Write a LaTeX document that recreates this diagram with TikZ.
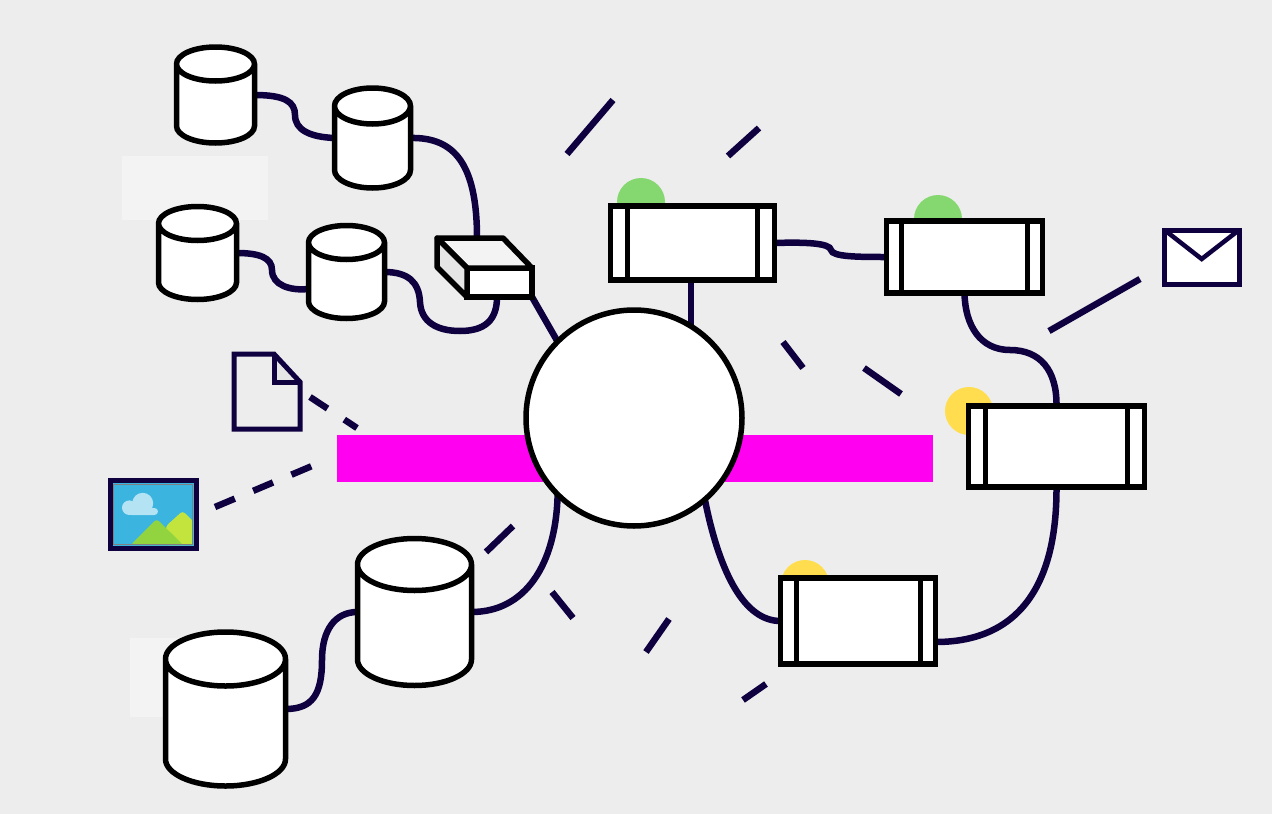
\documentclass[tikz,border=0pt]{standalone}
\usetikzlibrary{shapes.geometric,backgrounds}
\definecolor{navy}{HTML}{0F0040}
\definecolor{panel}{HTML}{EDEDED}
\definecolor{pale}{HTML}{F3F3F3}
\definecolor{bar}{HTML}{FF00F0}
\definecolor{okgreen}{HTML}{85D870}
\definecolor{warn}{HTML}{FFDD4F}
\definecolor{sky}{HTML}{3BB4E0}
\definecolor{cloud}{HTML}{B4E3F4}
\definecolor{hillback}{HTML}{C3E43C}
\definecolor{hillfront}{HTML}{92D340}
\tikzset{
  store/.style={cylinder,shape border rotate=90,anchor=shape center,draw=black,fill=white,line width=5.5pt,aspect=1,inner sep=#1,outer sep=0pt},
  svc/.style={draw=black,fill=white,line width=5.5pt,inner sep=0pt,outer sep=0pt,
    path picture={\draw[line width=5pt]
      ([xshift=#1]path picture bounding box.north west) -- ([xshift=#1]path picture bounding box.south west)
      ([xshift=-#1]path picture bounding box.north east) -- ([xshift=-#1]path picture bounding box.south east);}},
  wire/.style={draw=navy,line width=6.5pt},
  dot/.style={circle,minimum size=48pt,inner sep=0pt},
  icon/.style={draw=navy,line width=5pt,inner sep=0pt,outer sep=0pt}
}
\begin{document}
\begin{tikzpicture}[x=1pt,y=-1pt]
\useasboundingbox (0,0) rectangle (1272,814);
% stores
\node[store=17pt,minimum width=78pt,minimum height=96pt] (store1) at (215.5,95) {};
\node[store=18pt,minimum width=76pt,minimum height=100pt] (store2) at (372.5,138) {};
\node[store=17pt,minimum width=78pt,minimum height=93pt] (store3) at (197.5,253) {};
\node[store=17pt,minimum width=76pt,minimum height=93pt] (store4) at (346.5,272) {};
\node[store=26pt,minimum width=114pt,minimum height=147pt] (store5) at (414.5,612) {};
\node[store=27pt,minimum width=120pt,minimum height=154pt] (store6) at (225.5,709) {};
% services
\node[svc=17pt,minimum width=164pt,minimum height=74pt] (svcA) at (692.5,243) {};
\node[svc=15pt,minimum width=156pt,minimum height=72pt] (svcB) at (964.5,257) {};
\node[svc=17pt,minimum width=176pt,minimum height=81pt] (svcC) at (1056.5,446.5) {};
\node[svc=15.5pt,minimum width=155pt,minimum height=86pt] (svcD) at (858,621) {};
\node[circle,draw=black,fill=white,line width=5.5pt,minimum size=216pt,inner sep=0pt,outer sep=0pt] (hub) at (634,418) {};
% gateway
\node[draw=black,fill=white,line width=5.5pt,minimum width=65pt,minimum height=29pt,inner sep=0pt,outer sep=0pt] (gate) at (499.5,282.5) {};
\coordinate (gateTL) at (437,238);
\coordinate (gateTR) at (503,238);
\coordinate (gateBL) at (437,267);
\draw[line width=5.5pt,line join=round,fill=pale] (gate.north west) -- (gateTL) -- (gateTR) -- (gate.north east) -- cycle;
\draw[line width=5.5pt,line join=round,fill=black!10] (gate.north west) -- (gateTL) -- (gateBL) -- (gate.south west) -- cycle;
% icons
\node[icon,fill=white,minimum width=74.5pt,minimum height=54pt] (mail) at (1201.75,257) {};
\draw[navy,line width=4.5pt] (mail.north west) -- (1201.7,259) -- (mail.north east);
\coordinate (docA) at (234,354);
\coordinate (docB) at (274,354);
\coordinate (docC) at (300,382);
\coordinate (docD) at (300,429);
\coordinate (docE) at (234,429);
\coordinate (docF) at (274,382);
\fill[black!10] (docB) -- (docC) -- (docF) -- cycle;
\draw[navy,line width=5pt] (docB) -- (docF) -- (docC);
\draw[navy,line width=5pt] (docA) -- (docB) -- (docC) -- (docD) -- (docE) -- cycle;
\node[draw=navy,fill=sky,line width=5pt,minimum width=86pt,minimum height=68pt,inner sep=0pt,outer sep=0pt] (photo) at (153.5,514.5) {};
\begin{scope}
\clip (113,484) rectangle (193,545);
\fill[cloud] (142.7,503.3) circle (10.5);
\fill[cloud] (129.3,507.7) circle (7.3);
\fill[cloud,rounded corners=3.5] (128,508) rectangle (158,515);
\fill[hillback,rounded corners=3] (166,526) -- (182.7,511) -- (198,526) -- (198,545) -- (166,545) -- cycle;
\fill[hillfront,rounded corners=3] (130.7,545) -- (156.7,519) -- (183.3,545) -- cycle;
\end{scope}
\draw[gray,line width=1pt] (113.5,484.5) rectangle (192.5,544.5);
\begin{scope}[on background layer]
\fill[panel] (0,0) rectangle (1272,814);
\fill[pale] (122,156) rectangle (268,220);
\fill[pale] (130,638) rectangle (230,717);
\fill[bar] (337,435) rectangle (933,482);
\node[dot,fill=okgreen] (dotA) at (641,202) {};
\node[dot,fill=okgreen] (dotB) at (938,219) {};
\node[dot,fill=warn] (dotC) at (969,411) {};
\node[dot,fill=warn] (dotD) at (805,584) {};
% links
\draw[wire] (store1.east |- store1.shape center) .. controls (285,95) and (295,102) .. (295,115) .. controls (295,130) and (310,137) .. (store2.west |- store2.shape center);
\draw[wire] (store2.east |- store2.shape center) .. controls (455,137) and (477,165) .. (477,238);
\draw[wire] (store3.east |- store3.shape center) .. controls (260,253) and (272,258) .. (272,270) .. controls (272,285) and (290,291) .. (store4.west);
\draw[wire] (store4.east |- store4.shape center) .. controls (408,272) and (419,282) .. (420,302) .. controls (421,322) and (437,331) .. (460,331) .. controls (485,331) and (497,320) .. ([xshift=-2.5pt]gate.south);
\draw[wire] (gate.south east) -- (hub.135);
\draw[wire] (hub.58.5 |- svcA.south) -- (hub.58.5);
\draw[wire] (svcA.east) .. controls (805,242) and (830,243) .. (831,250) .. controls (832,257) and (860,257) .. (svcB.west);
\draw[wire] (svcB.south) .. controls (965,325) and (980,350) .. (1010,350) .. controls (1040,350) and (1057,370) .. (svcC.north);
\draw[wire] (svcC.south) .. controls (1057,590) and (1015,642) .. ([yshift=-21pt]svcD.east);
\draw[wire] (svcD.west) .. controls (745,621) and (720,575) .. (hub.311);
\draw[wire] (store6.east |- store6.shape center) .. controls (312,709) and (322,695) .. (322,660) .. controls (322,630) and (335,612) .. (store5.west |- store5.shape center);
\draw[wire] (store5.east |- store5.shape center) .. controls (525,612) and (556,565) .. (hub.225);
% free links
\foreach \n/\ax/\ay/\bx/\by in {a/567/154/613/100,b/728/156/759/128,c/783/342/803/368,d/864/368/901/394,e/1049/331/1140/279,f/486/552/513/526,g/552/592/573/618,h/646/652/669/619,k/743/700/766/684}{
  \coordinate (from\n) at (\ax,\ay);
  \coordinate (to\n) at (\bx,\by);
  \draw[wire] (from\n) -- (to\n);
}
\coordinate (docEnd) at (310,397);
\coordinate (docBar) at (357,428);
\draw[wire,dash pattern=on 21pt off 20pt] (docEnd) -- (docBar);
\coordinate (photoEnd) at (215,507);
\coordinate (photoBar) at (312,466);
\draw[wire,dash pattern=on 21.5pt off 20pt] (photoEnd) -- (photoBar);
\end{scope}
\end{tikzpicture}
\end{document}
